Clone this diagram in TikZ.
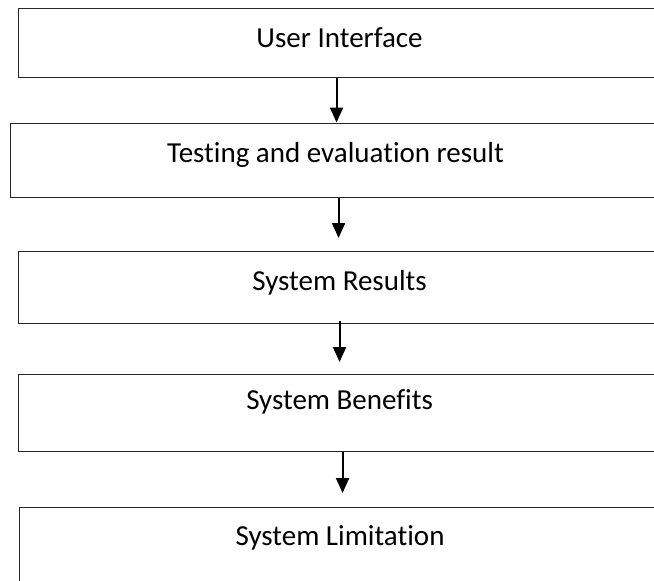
\documentclass[tikz,border=0pt]{standalone}
\usepackage{fontspec}
\setmainfont{Carlito}[Ligatures=NoCommon]
\usetikzlibrary{arrows.meta}

\tikzset{
  stagebox/.style={draw=black!85, line width=1.1pt, rectangle, inner sep=0pt,
    anchor=north west, minimum width=642pt,
    font=\fontsize{29}{35}\selectfont},
  flow/.style={line width=2pt, -{Triangle[width=13pt,length=15pt]}}
}

\begin{document}
\begin{tikzpicture}[x=1pt,y=1pt]
  \useasboundingbox (0,0) rectangle (654,-581);
  \clip (0,0) rectangle (654,-581);

  % stages of the workflow, top to bottom
  \node[stagebox, minimum height=69pt, text height=20pt, text depth=11pt]
    (ui) at (18,-8) {User Interface};
  \node[stagebox, minimum width=650pt, minimum height=74pt, text height=18pt, text depth=14pt]
    (test) at (10,-123) {Testing and evaluation result};
  \node[stagebox, minimum height=72pt, text height=19pt, text depth=13pt]
    (res) at (18,-251) {System Results};
  \node[stagebox, minimum height=77pt, text height=13pt, text depth=21pt]
    (ben) at (18,-374) {System Benefits};
  \node[stagebox, minimum width=641pt, minimum height=83pt, text height=14pt, text depth=21pt]
    (lim) at (19,-507) {System Limitation};

  % arrows between the stages
  \draw[flow] ([xshift=-3pt]ui.south) -- ([xshift=-3pt,yshift=0.5pt]ui.south |- test.north);
  \draw[flow] ([xshift=3pt]test.south) -- ([xshift=3pt,yshift=13pt]test.south |- res.north);
  \draw[flow] ([yshift=3pt]res.south) -- ([yshift=12pt]res.south |- ben.north);
  \draw[flow] ([xshift=3pt]ben.south) -- ([xshift=3pt,yshift=14pt]ben.south |- lim.north);
\end{tikzpicture}
\end{document}
